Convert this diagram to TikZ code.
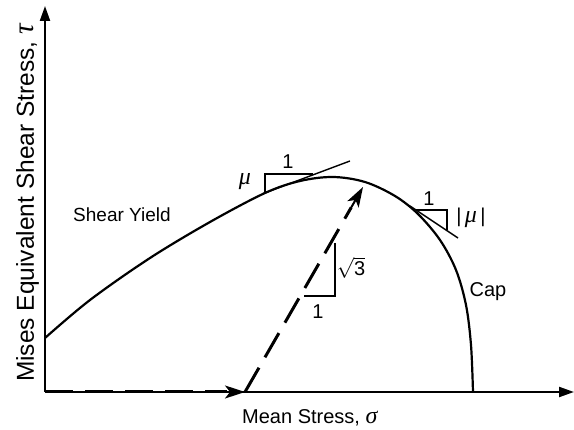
\documentclass[tikz,border=0pt]{standalone}
\usepackage{fontspec}
\setmainfont{Liberation Sans}
\newfontfamily\gkf[Scale=1.2]{Liberation Serif}
\newcommand{\gk}[1]{{\gkf\itshape #1}}
\usetikzlibrary{arrows.meta,calc}
\begin{document}
\begin{tikzpicture}[x=1pt,y=-1pt,
  lab/.style={font=\fontsize{20}{23}\selectfont, inner sep=0pt},
  axis/.style={line width=2.2pt},
  curve/.style={line width=2.2pt},
  thin line/.style={line width=1.4pt},
  path dash/.style={line width=3pt, dash pattern=on 28pt off 12pt},
  tip/.style={-{Stealth[length=20pt,width=13pt,inset=5pt]}},
  axtip/.style={-{Triangle[length=15pt,width=10pt]}}]
\useasboundingbox (0,0) rectangle (574,430);
% axes
\coordinate (O) at (45,392);
\coordinate (Ytop) at (45,6);
\coordinate (Xend) at (574,392);
\draw[axis,axtip] (O) -- (Ytop);
\draw[axis,axtip] (O) -- (Xend);
% yield surface
\draw[curve] plot[smooth, tension=0.55] coordinates {(45,338) (90,300) (150,258) (210,222) (265,193) (300,181) (333,177) (365,182) (395,196) (418,214) (440,240) (456,270) (466,305) (471,345) (473,392)};
% loading path
\coordinate (A) at (245,392);
\coordinate (B) at (363,187);
\draw[path dash] (O) -- ([xshift=-18pt]A);
\draw[line width=2pt, tip] ([xshift=-20pt]A) -- (A);
\draw[path dash] (A) -- ($(A)!0.9!(B)$);
\draw[line width=2pt, tip] ($(A)!0.88!(B)$) -- (B);
% tangent on shear yield
\coordinate (T1a) at (262,194);
\coordinate (T1b) at (350,161);
\draw[thin line] (T1a) -- (T1b);
\coordinate (P1) at (265,193);
\coordinate (P2) at (265,174);
\coordinate (P3) at (313,174);
\draw[line width=1.2pt] (P1) -- (P2) -- (P3);
\node[lab] (one1) at (288,162) {1};
\node[lab] (mu1) at (245,182) {\gk{μ}};
% tangent on cap
\coordinate (T2a) at (410,206);
\coordinate (T2b) at (458,238);
\draw[thin line] (T2a) -- (T2b);
\coordinate (Q1) at (416,210);
\coordinate (Q2) at (447,210);
\coordinate (Q3) at (447,230);
\draw[line width=1.2pt] (Q1) -- (Q2) -- (Q3);
\node[lab] (one2) at (429,199) {1};
\node[lab] (mu2) at (471,218) {|\,\gk{μ}\,|};
% sqrt3 slope triangle
\coordinate (R1) at (335,243);
\coordinate (R2) at (335,296);
\coordinate (R3) at (304,296);
\draw[line width=1.2pt] (R1) -- (R2) -- (R3);
\node[lab] (s3) at (351,268) {$\sqrt{\mbox{3}}$};
\node[lab] (one3) at (318,312) {1};
% labels
\node[lab, font=\fontsize{19}{22}\selectfont] (sy) at (122,215) {Shear Yield};
\node[lab] (cap) at (488,292) {Cap};
\node[lab, anchor=base west] (xl) at (242,424) {Mean Stress, \gk{σ}};
\node[lab, rotate=90, anchor=base, font=\fontsize{24.5}{27}\selectfont] (yl) at (34,203) {Mises Equivalent Shear Stress, \gk{τ}};
\end{tikzpicture}
\end{document}
